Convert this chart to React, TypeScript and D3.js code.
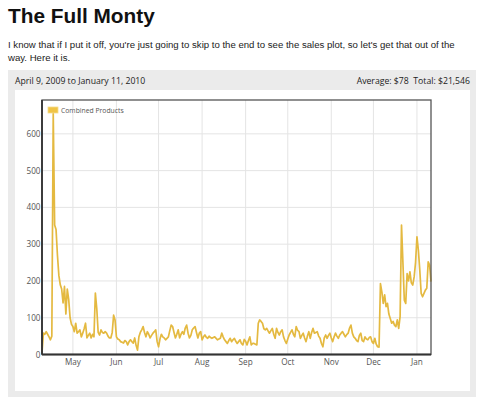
import React from "react";
import * as d3 from "d3";

const W = 485;
const H = 397;

// daily sales, starting April 9, 2009
const startDate = new Date(2009, 3, 9);
const endDate = new Date(2010, 0, 11);

const aprilSales = [5, 58, 55, 62, 55, 48, 40, 50, 655, 352, 340, 270, 215, 190, 178, 140, 185, 110, 178, 150, 100, 82];
const maySales = [76, 62, 85, 58, 62, 67, 48, 58, 70, 85, 45, 52, 58, 45, 55, 48, 167, 125, 60, 53, 67, 60, 58, 62, 58, 50, 45, 45, 60, 107, 94];
const juneSales = [48, 42, 40, 35, 33, 31, 38, 35, 26, 35, 40, 35, 31, 45, 25, 12, 48, 60, 67, 76, 60, 48, 62, 55, 45, 52, 58, 62, 67, 35];
const julySales = [21, 42, 55, 48, 45, 40, 44, 48, 65, 80, 76, 60, 45, 55, 67, 45, 55, 62, 55, 72, 80, 58, 45, 52, 67, 72, 76, 60, 45, 58, 62];
const augustSales = [40, 48, 53, 47, 44, 50, 46, 44, 46, 48, 44, 40, 42, 44, 58, 48, 40, 35, 30, 38, 44, 35, 40, 44, 36, 30, 35, 40, 30, 26, 41];
const septemberSales = [36, 26, 38, 48, 26, 30, 30, 28, 26, 85, 94, 90, 85, 70, 67, 71, 64, 58, 65, 71, 55, 44, 71, 60, 53, 62, 67, 48, 38, 30];
const octoberSales = [42, 53, 60, 67, 55, 48, 76, 66, 62, 44, 52, 58, 45, 35, 50, 62, 44, 60, 71, 58, 60, 62, 50, 44, 30, 21, 45, 53, 44, 52, 58];
const novemberSales = [45, 35, 48, 58, 50, 44, 53, 58, 62, 55, 48, 54, 58, 72, 80, 58, 48, 44, 38, 35, 52, 58, 38, 35, 48, 42, 40, 46, 48, 35];
const decemberSales = [30, 44, 28, 21, 20, 193, 170, 139, 162, 130, 139, 110, 98, 85, 90, 80, 76, 94, 71, 103, 352, 250, 148, 139, 220, 200, 225, 195, 189, 211, 250];
const januarySales = [320, 284, 230, 166, 157, 166, 175, 180, 252, 243, 198];

const sales = [
  ...aprilSales, ...maySales, ...juneSales, ...julySales, ...augustSales,
  ...septemberSales, ...octoberSales, ...novemberSales, ...decemberSales, ...januarySales,
];

const yTicks = [0, 100, 200, 300, 400, 500, 600];
const monthLabels = ["May", "Jun", "Jul", "Aug", "Sep", "Oct", "Nov", "Dec", "Jan"];

const plot = { left: 42, right: 431, top: 100, bottom: 354.5 };
const lineColor = "#e4b940";
const labelFont = "'Open Sans', 'DejaVu Sans', sans-serif";

export default function App() {
  const data = sales.map((v, i) => ({ date: d3.timeDay.offset(startDate, i), value: v }));

  const x = d3.scaleTime().domain([startDate, endDate]).range([plot.left, plot.right]);
  const y = d3.scaleLinear().domain([0, 692]).range([plot.bottom, plot.top]);

  const months = d3.timeMonth.range(new Date(2009, 4, 1), endDate);

  const line = d3
    .line<{ date: Date; value: number }>()
    .x((d) => x(d.date))
    .y((d) => y(d.value));

  return (
    <svg
      width={W}
      height={H}
      style={{ position: "absolute", left: 0, top: 0 }}
      fontFamily="'Liberation Sans', Arial, sans-serif"
    >
      <rect x={0} y={0} width={W} height={H} fill="#fff" />
      <text x={8} y={23} fontSize={20.8} fontWeight="bold" fill="#111">
        The Full Monty
      </text>
      <text x={8} y={47.5} fontSize={9.6} fill="#222">
        I know that if I put it off, you're just going to skip to the end to see the sales plot, so let's get that out of the
      </text>
      <text x={8} y={60.5} fontSize={9.6} fill="#222">
        way. Here it is.
      </text>

      <rect x={8} y={70} width={468} height={327} fill="#ebebeb" />
      <text x={15} y={83.5} fontSize={8.7} fill="#222" fontFamily={labelFont}>
        April 9, 2009 to January 11, 2010
      </text>
      <text x={470} y={83.5} fontSize={8.7} fill="#222" textAnchor="end" fontFamily={labelFont} xmlSpace="preserve">
        Average: $78  Total: $21,546
      </text>
      <rect x={15} y={90} width={455} height={301} fill="#fff" />

      <g stroke="#e4e4e4" strokeWidth={1}>
        {yTicks.slice(1).map((t) => (
          <line key={t} x1={plot.left} x2={plot.right} y1={y(t)} y2={y(t)} />
        ))}
        {months.map((m, i) => (
          <line key={i} x1={x(m)} x2={x(m)} y1={plot.top} y2={plot.bottom} />
        ))}
      </g>

      <g fontFamily={labelFont} fontSize={8.2} fill="#555">
        {yTicks.map((t) => (
          <text key={t} x={plot.left - 1.5} y={y(t) + 3} textAnchor="end">
            {t}
          </text>
        ))}
        {months.map((m, i) => (
          <text key={i} x={x(m)} y={365} textAnchor="middle">
            {monthLabels[i]}
          </text>
        ))}
      </g>

      <path d={line(data) ?? ""} fill="none" stroke={lineColor} strokeWidth={1.7} strokeLinejoin="round" />

      <rect
        x={plot.left}
        y={plot.top}
        width={plot.right - plot.left}
        height={plot.bottom - plot.top}
        fill="none"
        stroke="#555"
        strokeWidth={1.3}
      />
      <line x1={plot.left} x2={plot.left} y1={plot.top} y2={plot.bottom} stroke="#333" strokeWidth={1.8} />
      <line x1={plot.left} x2={plot.right} y1={plot.bottom} y2={plot.bottom} stroke="#333" strokeWidth={1.8} />

      <rect x={48} y={107} width={10} height={6} fill="#f0c445" stroke="#f6dc8c" strokeWidth={0.8} />
      <text x={61} y={112.5} fontSize={6.8} fill="#555" fontFamily={labelFont}>
        Combined Products
      </text>
    </svg>
  );
}
